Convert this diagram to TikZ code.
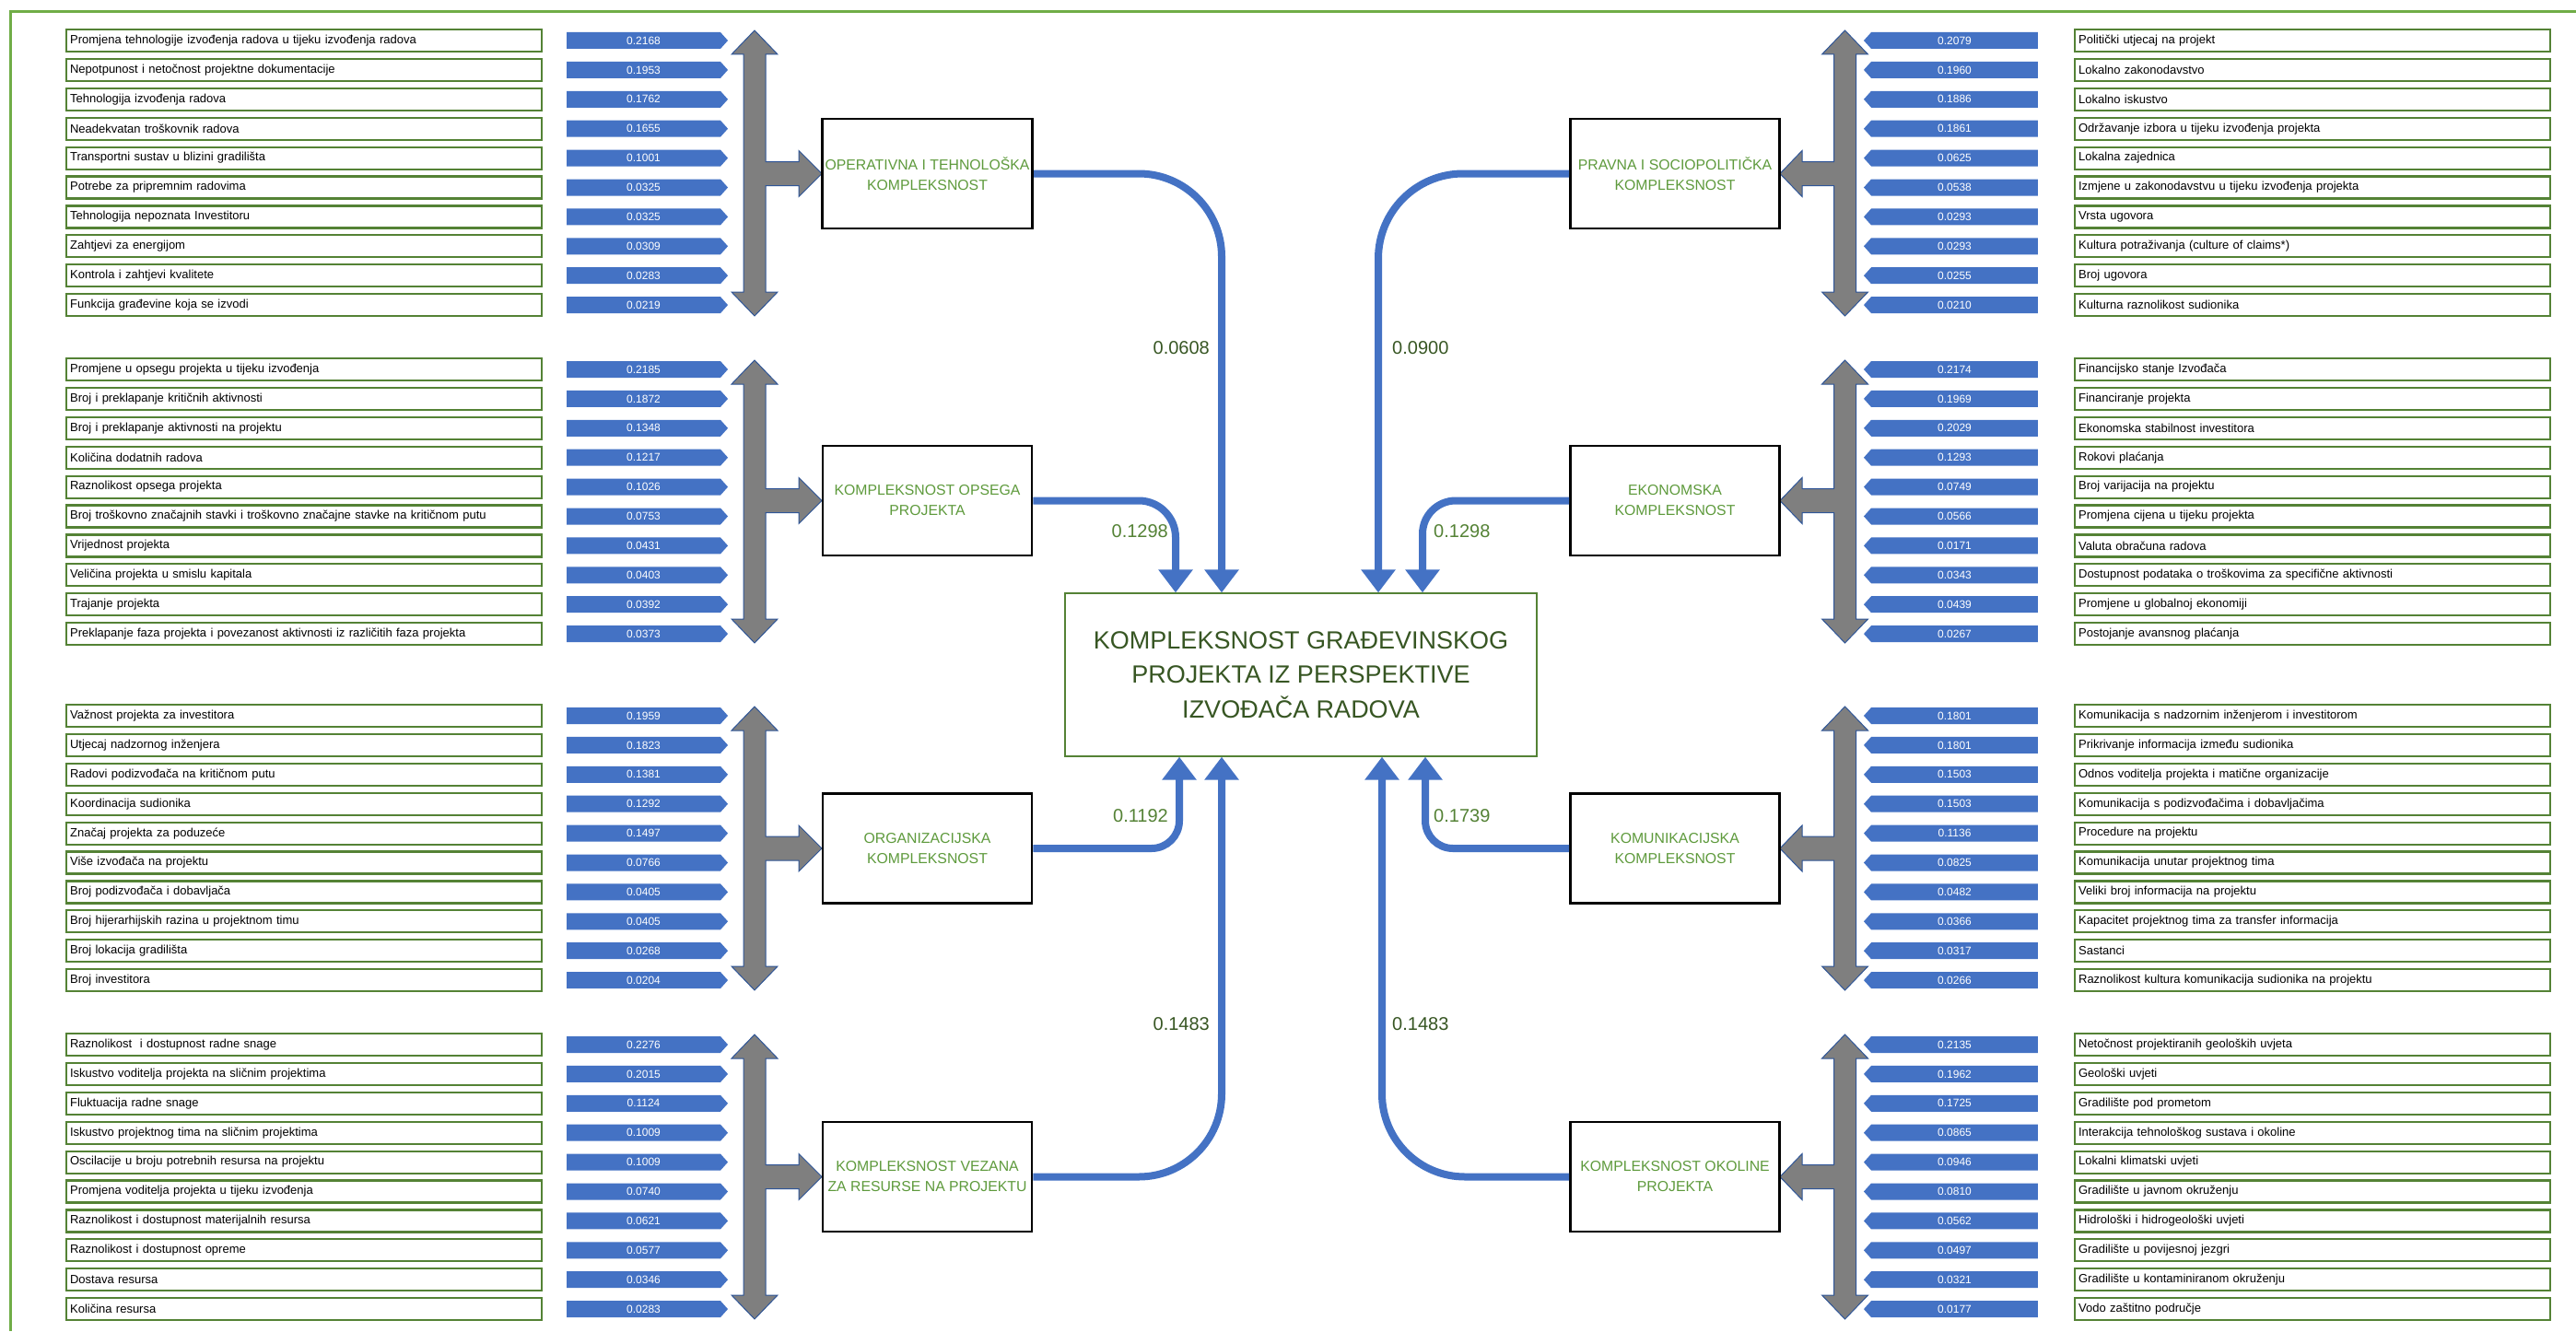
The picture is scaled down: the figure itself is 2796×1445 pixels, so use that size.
\documentclass[tikz,border=0pt]{standalone}
\usepackage{fontspec}
\setmainfont{Liberation Sans}
\usetikzlibrary{arrows.meta,shapes.symbols}
\definecolor{lblgreen}{HTML}{548235}
\definecolor{framegreen}{HTML}{70AD47}
\definecolor{tagblue}{HTML}{4472C4}
\definecolor{arrgray}{HTML}{7F7F7F}
\definecolor{arredge}{HTML}{2F5597}
\definecolor{catgreen}{HTML}{5E9A3C}
\definecolor{darkgreen}{HTML}{375623}

\tikzset{
 lbl/.style={draw=lblgreen, line width=2.2pt, fill=white, minimum width=516pt, minimum height=24pt,
   text width=508pt, inner xsep=4pt, inner ysep=0pt, align=left, font=\fontsize{13}{15}\selectfont, anchor=west},
 tagbase/.style={signal, fill=tagblue, text=white, minimum height=18pt, inner sep=0pt,
   signal pointer angle=96, font=\fontsize{12}{14}\selectfont},
 tagR/.style={tagbase, signal to=east, minimum width=175pt},
 tagL/.style={tagbase, signal to=west, minimum width=189pt},
 catbox/.style={draw=black, line width=2.6pt, fill=white, minimum width=227pt, minimum height=119pt,
   align=center, text=catgreen, font=\fontsize{15.8}{22}\selectfont},
 centralbox/.style={draw=lblgreen, line width=1.3pt, fill=white, minimum width=512pt, minimum height=177pt,
   align=center, text=darkgreen, font=\fontsize{27}{37.5}\selectfont},
 conn/.style={draw=tagblue, line width=8pt, -{Triangle[width=36pt,length=25pt]}},
 grayarr/.style={fill=arrgray, draw=arredge, line width=1pt},
 wdark/.style={text=darkgreen, font=\fontsize{20}{24}\selectfont, inner sep=0pt},
 wmid/.style={text=lblgreen, font=\fontsize{20}{24}\selectfont, inner sep=0pt},
 frameline/.style={draw=framegreen, line width=3pt}
}

\newcommand{\leftrows}[3]{%
 \foreach \lt/\lv [count=\i] in {#3} {
  \node[lbl] (L#1-\i) at (71,{#2+31.9*(\i-1)}) {\lt};
  \node[tagR] (T#1-\i) at (698.5,{#2+31.9*(\i-1)}) {\lv};
 }}
\newcommand{\rightrows}[3]{%
 \foreach \lt/\lv [count=\i] in {#3} {
  \node[tagL] (T#1-\i) at (2121.5,{#2+31.9*(\i-1)}) {\lv};
  \node[lbl] (L#1-\i) at (2251,{#2+31.9*(\i-1)}) {\lt};
 }}
% gray triple arrow, branch to the right: cx, top, bottom, branch y
\newcommand{\grayTriR}[4]{%
 \path[grayarr] (#1,#2) -- ({#1+25},{#2+26}) -- ({#1+12},{#2+26}) -- ({#1+12},{#4-13}) -- (867,{#4-13})
  -- (867,{#4-25}) -- (892,#4) -- (867,{#4+25}) -- (867,{#4+13}) -- ({#1+12},{#4+13}) -- ({#1+12},{#3-26})
  -- ({#1+25},{#3-26}) -- (#1,#3) -- ({#1-25},{#3-26}) -- ({#1-12},{#3-26}) -- ({#1-12},{#2+26})
  -- ({#1-25},{#2+26}) -- cycle;}
% gray triple arrow, branch to the left
\newcommand{\grayTriL}[4]{%
 \path[grayarr] (#1,#2) -- ({#1+25},{#2+26}) -- ({#1+12},{#2+26}) -- ({#1+12},{#3-26}) -- ({#1+25},{#3-26})
  -- (#1,#3) -- ({#1-25},{#3-26}) -- ({#1-12},{#3-26}) -- ({#1-12},{#4+13}) -- (1956,{#4+13})
  -- (1956,{#4+25}) -- (1932,#4) -- (1956,{#4-25}) -- (1956,{#4-13}) -- ({#1-12},{#4-13})
  -- ({#1-12},{#2+26}) -- ({#1-25},{#2+26}) -- cycle;}

\begin{document}
\begin{tikzpicture}[x=1pt,y=-1pt]
\path[use as bounding box, fill=white] (0,0) rectangle (2796,1445);
\draw[frameline] (2796,13) -- (11,13) -- (11,1445);

% ---------- left groups ----------
\leftrows{1}{44}{
 Promjena tehnologije izvođenja radova u tijeku izvođenja radova/0.2168,
 Nepotpunost i netočnost projektne dokumentacije/0.1953,
 Tehnologija izvođenja radova/0.1762,
 Neadekvatan troškovnik radova/0.1655,
 Transportni sustav u blizini gradilišta/0.1001,
 Potrebe za pripremnim radovima/0.0325,
 Tehnologija nepoznata Investitoru/0.0325,
 Zahtjevi za energijom/0.0309,
 Kontrola i zahtjevi kvalitete/0.0283,
 Funkcija građevine koja se izvodi/0.0219}
\leftrows{2}{401}{
 Promjene u opsegu projekta u tijeku izvođenja/0.2185,
 Broj i preklapanje kritičnih aktivnosti/0.1872,
 Broj i preklapanje aktivnosti na projektu/0.1348,
 Količina dodatnih radova/0.1217,
 Raznolikost opsega projekta/0.1026,
 Broj troškovno značajnih stavki i troškovno značajne stavke na kritičnom putu/0.0753,
 Vrijednost projekta/0.0431,
 Veličina projekta u smislu kapitala/0.0403,
 Trajanje projekta/0.0392,
 Preklapanje faza projekta i povezanost aktivnosti iz različitih faza projekta/0.0373}
\leftrows{3}{777}{
 Važnost projekta za investitora/0.1959,
 Utjecaj nadzornog inženjera/0.1823,
 Radovi podizvođača na kritičnom putu/0.1381,
 Koordinacija sudionika/0.1292,
 Značaj projekta za poduzeće/0.1497,
 Više izvođača na projektu/0.0766,
 Broj podizvođača i dobavljača/0.0405,
 Broj hijerarhijskih razina u projektnom timu/0.0405,
 Broj lokacija gradilišta/0.0268,
 Broj investitora/0.0204}
\leftrows{4}{1134}{
 Raznolikost\ \ i dostupnost radne snage/0.2276,
 Iskustvo voditelja projekta na sličnim projektima/0.2015,
 Fluktuacija radne snage/0.1124,
 Iskustvo projektnog tima na sličnim projektima/0.1009,
 Oscilacije u broju potrebnih resursa na projektu/0.1009,
 Promjena voditelja projekta u tijeku izvođenja/0.0740,
 Raznolikost i dostupnost materijalnih resursa/0.0621,
 Raznolikost i dostupnost opreme/0.0577,
 Dostava resursa/0.0346,
 Količina resursa/0.0283}

% ---------- right groups ----------
\rightrows{5}{44}{
 Politički utjecaj na projekt/0.2079,
 Lokalno zakonodavstvo/0.1960,
 Lokalno iskustvo/0.1886,
 Održavanje izbora u tijeku izvođenja projekta/0.1861,
 Lokalna zajednica/0.0625,
 Izmjene u zakonodavstvu u tijeku izvođenja projekta/0.0538,
 Vrsta ugovora/0.0293,
 Kultura potraživanja (culture of claims*)/0.0293,
 Broj ugovora/0.0255,
 Kulturna raznolikost sudionika/0.0210}
\rightrows{6}{401}{
 Financijsko stanje Izvođača/0.2174,
 Financiranje projekta/0.1969,
 Ekonomska stabilnost investitora/0.2029,
 Rokovi plaćanja/0.1293,
 Broj varijacija na projektu/0.0749,
 Promjena cijena u tijeku projekta/0.0566,
 Valuta obračuna radova/0.0171,
 Dostupnost podataka o troškovima za specifične aktivnosti/0.0343,
 Promjene u globalnoj ekonomiji/0.0439,
 Postojanje avansnog plaćanja/0.0267}
\rightrows{7}{777}{
 Komunikacija s nadzornim inženjerom i investitorom/0.1801,
 Prikrivanje informacija između sudionika/0.1801,
 Odnos voditelja projekta i matične organizacije/0.1503,
 Komunikacija s podizvođačima i dobavljačima/0.1503,
 Procedure na projektu/0.1136,
 Komunikacija unutar projektnog tima/0.0825,
 Veliki broj informacija na projektu/0.0482,
 Kapacitet projektnog tima za transfer informacija/0.0366,
 Sastanci/0.0317,
 Raznolikost kultura komunikacija sudionika na projektu/0.0266}
\rightrows{8}{1134}{
 Netočnost projektiranih geoloških uvjeta/0.2135,
 Geološki uvjeti/0.1962,
 Gradilište pod prometom/0.1725,
 Interakcija tehnološkog sustava i okoline/0.0865,
 Lokalni klimatski uvjeti/0.0946,
 Gradilište u javnom okruženju/0.0810,
 Hidrološki i hidrogeološki uvjeti/0.0562,
 Gradilište u povijesnoj jezgri/0.0497,
 Gradilište u kontaminiranom okruženju/0.0321,
 Vodo zaštitno područje/0.0177}

% ---------- gray distributor arrows ----------
\grayTriR{819}{33}{343}{188.5}
\grayTriR{819}{391}{698}{543.5}
\grayTriR{819}{767}{1075}{921}
\grayTriR{819}{1123}{1432}{1277.5}
\grayTriL{2002.5}{33}{343}{188.5}
\grayTriL{2002.5}{391}{698}{543.5}
\grayTriL{2002.5}{767}{1075}{921}
\grayTriL{2002.5}{1123}{1432}{1277.5}

% ---------- category boxes ----------
\node[catbox] (C1) at (1006.5,188.5) {OPERATIVNA I TEHNOLOŠKA\\KOMPLEKSNOST};
\node[catbox] (C2) at (1006.5,543.5) {KOMPLEKSNOST OPSEGA\\PROJEKTA};
\node[catbox] (C3) at (1006.5,921) {ORGANIZACIJSKA\\KOMPLEKSNOST};
\node[catbox] (C4) at (1006.5,1277.5) {KOMPLEKSNOST VEZANA\\ZA RESURSE NA PROJEKTU};
\node[catbox] (C5) at (1818,188.5) {PRAVNA I SOCIOPOLITIČKA\\KOMPLEKSNOST};
\node[catbox] (C6) at (1818,543.5) {EKONOMSKA\\KOMPLEKSNOST};
\node[catbox] (C7) at (1818,921) {KOMUNIKACIJSKA\\KOMPLEKSNOST};
\node[catbox] (C8) at (1818,1277.5) {KOMPLEKSNOST OKOLINE\\PROJEKTA};

% ---------- central box ----------
\node[centralbox] (K) at (1412,732.5) {KOMPLEKSNOST GRAĐEVINSKOG\\PROJEKTA IZ PERSPEKTIVE\\IZVOĐAČA RADOVA};

% ---------- connectors ----------
\draw[conn, rounded corners=90pt] (C1.east) -| ([xshift=-86pt]K.north);
\draw[conn, rounded corners=40pt] (C2.east) -| ([xshift=-136pt]K.north);
\draw[conn, rounded corners=92pt] (C5.west) -| ([xshift=84pt]K.north);
\draw[conn, rounded corners=36pt] (C6.west) -| ([xshift=132pt]K.north);
\draw[conn, rounded corners=30pt] (C3.east) -| ([xshift=-132pt]K.south);
\draw[conn, rounded corners=90pt] (C4.east) -| ([xshift=-86pt]K.south);
\draw[conn, rounded corners=30pt] (C7.west) -| ([xshift=135pt]K.south);
\draw[conn, rounded corners=90pt] (C8.west) -| ([xshift=88pt]K.south);

% ---------- weights ----------
\node[wdark, anchor=east] (w1) at (1313,378) {0.0608};
\node[wdark, anchor=west] (w5) at (1511,378) {0.0900};
\node[wmid, anchor=east] (w2) at (1268,577) {0.1298};
\node[wmid, anchor=west] (w6) at (1556,577) {0.1298};
\node[wmid, anchor=east] (w3) at (1268,886) {0.1192};
\node[wmid, anchor=west] (w7) at (1556,886) {0.1739};
\node[wdark, anchor=east] (w4) at (1313,1112) {0.1483};
\node[wdark, anchor=west] (w8) at (1511,1112) {0.1483};
\end{tikzpicture}
\end{document}
